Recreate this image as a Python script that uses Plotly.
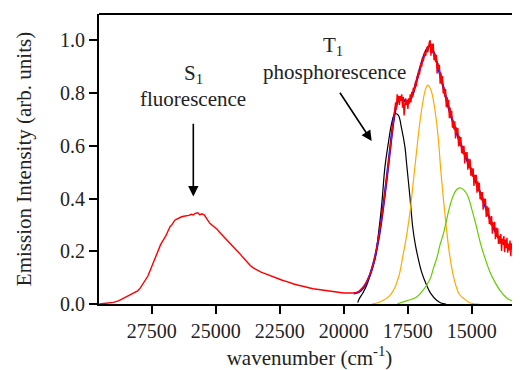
import plotly.graph_objects as go

# ---- data ----
red_x = [29550, 29300, 29000, 28800, 28600, 28450, 28300, 28150, 28050, 27950, 27850, 27750, 27650, 27550,
         27450, 27350, 27250, 27150, 27050, 26950, 26850, 26780, 26700, 26600, 26520, 26450, 26350, 26250,
         26150, 26050, 25950, 25880, 25800, 25700, 25620, 25550, 25450, 25380, 25300, 25220, 25150, 25050,
         24950, 24850, 24750, 24650, 24550, 24450, 24350, 24250, 24150, 24050, 23950, 23850, 23750, 23650,
         23550, 23450, 23350, 23250, 23150, 23050, 22950, 22850, 22700, 22550, 22400, 22250, 22100, 21950,
         21800, 21650, 21500, 21350, 21200, 21050, 20900, 20750, 20600, 20450, 20300, 20150, 20000, 19850,
         19700, 19600, 19500, 19400, 19300, 19200, 19100, 19000, 18900, 18800, 18700, 18600, 18500, 18400,
         18300, 18200, 18150, 18100, 18050, 18000, 17970, 17940, 17910, 17880, 17850, 17820, 17790, 17760,
         17730, 17700, 17670, 17640, 17610, 17580, 17550, 17520, 17490, 17460, 17430, 17400, 17370, 17340,
         17310, 17280, 17250, 17220, 17190, 17160, 17130, 17100, 17070, 17040, 17010, 16980, 16950, 16920,
         16890, 16860, 16830, 16800, 16770, 16740, 16710, 16680, 16650, 16620, 16590, 16560, 16530, 16500,
         16470, 16440, 16410, 16380, 16350, 16320, 16290, 16260, 16230, 16200, 16170, 16140, 16110, 16080,
         16050, 16020, 15990, 15960, 15930, 15900, 15870, 15840, 15810, 15780, 15750, 15720, 15690, 15660,
         15630, 15600, 15570, 15540, 15510, 15480, 15450, 15420, 15390, 15360, 15330, 15300, 15270, 15240,
         15210, 15180, 15150, 15120, 15090, 15060, 15030, 15000, 14970, 14940, 14910, 14880, 14850, 14820,
         14790, 14760, 14730, 14700, 14670, 14640, 14610, 14580, 14550, 14520, 14490, 14460, 14430, 14400,
         14370, 14340, 14310, 14280, 14250, 14220, 14190, 14160, 14130, 14100, 14070, 14040, 14010, 13980,
         13950, 13920, 13890, 13860, 13830, 13800, 13770, 13740, 13710, 13680, 13650, 13620, 13590, 13560,
         13530, 13500, 13470, 13440, 13410, 13380, 13350, 13320, 13290, 13260, 13230, 13200, 13170, 13140,
         13110]
red_y = [0.000, 0.002, 0.006, 0.012, 0.022, 0.030, 0.036, 0.044, 0.050, 0.060, 0.074, 0.090, 0.106, 0.130,
         0.156, 0.180, 0.208, 0.226, 0.242, 0.258, 0.280, 0.294, 0.302, 0.318, 0.322, 0.326, 0.330, 0.333,
         0.334, 0.336, 0.340, 0.338, 0.344, 0.346, 0.338, 0.342, 0.338, 0.326, 0.316, 0.305, 0.300, 0.292,
         0.284, 0.272, 0.262, 0.254, 0.244, 0.232, 0.224, 0.214, 0.200, 0.190, 0.178, 0.166, 0.156, 0.146,
         0.138, 0.132, 0.126, 0.122, 0.118, 0.114, 0.110, 0.106, 0.102, 0.096, 0.090, 0.086, 0.080, 0.076,
         0.072, 0.068, 0.064, 0.060, 0.058, 0.056, 0.054, 0.051, 0.050, 0.047, 0.045, 0.043, 0.042, 0.042,
         0.041, 0.040, 0.042, 0.048, 0.058, 0.068, 0.084, 0.104, 0.132, 0.168, 0.215, 0.268, 0.335, 0.410,
         0.490, 0.575, 0.615, 0.660, 0.700, 0.730, 0.765, 0.740, 0.795, 0.765, 0.790, 0.755, 0.790, 0.770,
         0.795, 0.745, 0.785, 0.715, 0.770, 0.780, 0.755, 0.775, 0.740, 0.780, 0.760, 0.795, 0.765, 0.805,
         0.785, 0.820, 0.805, 0.835, 0.845, 0.825, 0.865, 0.855, 0.885, 0.870, 0.905, 0.915, 0.900, 0.935,
         0.920, 0.950, 0.955, 0.940, 0.970, 0.975, 0.955, 0.990, 0.995, 1.000, 0.942, 0.987, 0.952, 0.988,
         0.925, 0.951, 0.918, 0.945, 0.874, 0.914, 0.888, 0.907, 0.836, 0.878, 0.837, 0.865, 0.799, 0.822,
         0.786, 0.815, 0.746, 0.785, 0.759, 0.775, 0.705, 0.745, 0.706, 0.733, 0.669, 0.695, 0.662, 0.693,
         0.628, 0.670, 0.646, 0.667, 0.598, 0.638, 0.600, 0.633, 0.572, 0.600, 0.568, 0.600, 0.533, 0.575,
         0.553, 0.576, 0.509, 0.552, 0.516, 0.549, 0.487, 0.515, 0.483, 0.515, 0.448, 0.490, 0.468, 0.490,
         0.422, 0.465, 0.428, 0.460, 0.397, 0.425, 0.393, 0.425, 0.358, 0.401, 0.378, 0.399, 0.330, 0.372,
         0.334, 0.366, 0.304, 0.332, 0.300, 0.334, 0.267, 0.310, 0.289, 0.312, 0.246, 0.290, 0.254, 0.287,
         0.228, 0.259, 0.229, 0.265, 0.201, 0.248, 0.230, 0.258, 0.196, 0.244, 0.212, 0.251, 0.195, 0.229,
         0.203, 0.241, 0.181, 0.230, 0.215, 0.244, 0.184, 0.234, 0.203, 0.243, 0.188, 0.222, 0.197, 0.237,
         0.177]

fit_x = [19600, 19400, 19200, 19000, 18800, 18600, 18400, 18200, 18100, 18000, 17900, 17800, 17700, 17600,
         17500, 17400, 17300, 17200, 17100, 17000, 16900, 16800, 16700, 16650, 16600, 16500, 16400, 16300,
         16200, 16100, 16000, 15900, 15800, 15700, 15600, 15500, 15400, 15300, 15200, 15100, 15000, 14900,
         14800, 14700, 14600, 14500, 14400, 14300, 14200, 14100, 14000, 13900, 13800, 13700, 13600, 13500,
         13400, 13300, 13200, 13100]
fit_y = [0.040, 0.046, 0.066, 0.104, 0.168, 0.268, 0.410, 0.575, 0.660, 0.725, 0.765, 0.780, 0.778, 0.770,
         0.768, 0.775, 0.795, 0.830, 0.865, 0.900, 0.932, 0.958, 0.975, 0.978, 0.975, 0.958, 0.930, 0.895,
         0.858, 0.820, 0.782, 0.745, 0.712, 0.682, 0.655, 0.625, 0.600, 0.575, 0.550, 0.528, 0.505, 0.480,
         0.455, 0.430, 0.405, 0.380, 0.352, 0.326, 0.302, 0.280, 0.260, 0.245, 0.233, 0.225, 0.220, 0.216,
         0.214, 0.213, 0.212, 0.212]

g1_x = [19450, 19400, 19250, 19100, 18950, 18777, 18648, 18516, 18387, 18258, 18128, 17996, 17866, 17735,
        17605, 17540, 17410, 17300, 17200, 17086, 16950, 16758, 16600, 16367, 16200, 16000]
g1_y = [0.005, 0.018, 0.042, 0.071, 0.115, 0.172, 0.260, 0.374, 0.520, 0.608, 0.684, 0.722, 0.716, 0.665,
        0.595, 0.532, 0.405, 0.290, 0.225, 0.172, 0.120, 0.071, 0.040, 0.014, 0.004, 0.000]

g2_x = [18900, 18700, 18450, 18200, 18000, 17900, 17800, 17700, 17600, 17500, 17400, 17300, 17200, 17100,
        17000, 16900, 16800, 16720, 16600, 16500, 16400, 16300, 16200, 16100, 16000, 15900, 15800, 15700,
        15600, 15500, 15400, 15300, 15100, 14900, 14700]
g2_y = [0.000, 0.004, 0.014, 0.032, 0.062, 0.088, 0.122, 0.175, 0.226, 0.285, 0.355, 0.445, 0.535, 0.625,
        0.705, 0.770, 0.815, 0.830, 0.815, 0.775, 0.712, 0.625, 0.500, 0.395, 0.300, 0.215, 0.150, 0.100,
        0.065, 0.040, 0.028, 0.020, 0.006, 0.001, 0.000]

g3_x = [17900, 17672, 17400, 17148, 16950, 16758, 16600, 16497, 16350, 16238, 16100, 16000, 15848, 15700,
        15550, 15430, 15300, 15150, 15000, 14870, 14750, 14650, 14547, 14400, 14285, 14100, 13894, 13650,
        13374, 13100]
g3_y = [0.001, 0.008, 0.016, 0.027, 0.046, 0.071, 0.100, 0.134, 0.178, 0.223, 0.268, 0.310, 0.372, 0.415,
        0.437, 0.440, 0.432, 0.410, 0.362, 0.315, 0.268, 0.228, 0.195, 0.152, 0.121, 0.085, 0.052, 0.025,
        0.010, 0.004]

x_ticks = [27500, 25000, 22500, 20000, 17500, 15000]
y_ticks = [0.0, 0.2, 0.4, 0.6, 0.8, 1.0]

FONT = "'Liberation Serif', serif"
TXT = "#222222"

fig = go.Figure()
fig.add_trace(go.Scatter(x=g1_x, y=g1_y, mode="lines", line=dict(color="black", width=1.2, shape="spline")))
fig.add_trace(go.Scatter(x=g2_x, y=g2_y, mode="lines", line=dict(color="#ffaa00", width=1.2, shape="spline")))
fig.add_trace(go.Scatter(x=g3_x, y=g3_y, mode="lines", line=dict(color="#66cc00", width=1.2, shape="spline")))
fig.add_trace(go.Scatter(x=fit_x, y=fit_y, mode="lines", line=dict(color="#0000ff", width=2.2, shape="spline")))
fig.add_trace(go.Scatter(x=red_x, y=red_y, mode="lines", line=dict(color="#ff0000", width=1.4)))

annos = [
    dict(x=25875, y=0.872, text="S<sub>1</sub>", showarrow=False),
    dict(x=25875, y=0.778, text="fluorescence", showarrow=False),
    dict(x=20430, y=0.978, text="T<sub>1</sub>", showarrow=False),
    dict(x=20340, y=0.880, text="phosphorescence", showarrow=False),
    dict(x=25875, y=0.408, ax=25875, ay=0.689, axref="x", ayref="y", text="", showarrow=True,
         arrowhead=2, arrowsize=1.3, arrowwidth=1.6, arrowcolor="black"),
    dict(x=18906, y=0.618, ax=20184, ay=0.807, axref="x", ayref="y", text="", showarrow=True,
         arrowhead=2, arrowsize=1.3, arrowwidth=1.6, arrowcolor="black"),
]
for a in annos:
    a.update(xref="x", yref="y", font=dict(family=FONT, size=21, color=TXT))
    fig.add_annotation(**a)

# top frame line
fig.add_shape(type="line", xref="paper", yref="paper", x0=0, x1=1, y0=1, y1=1,
              line=dict(color="black", width=2))

fig.update_layout(
    width=512, height=362,
    margin=dict(l=91, r=0, t=6, b=66),
    paper_bgcolor="white", plot_bgcolor="white",
    showlegend=False,
    font=dict(family=FONT, size=20, color=TXT),
)
fig.update_xaxes(
    range=[29560, 13110], autorange=False,
    tickmode="array", tickvals=x_ticks, ticktext=[str(v) for v in x_ticks],
    ticks="outside", ticklen=8, tickwidth=2, tickcolor="black",
    showline=True, linewidth=2, linecolor="black",
    showgrid=False, zeroline=False,
    tickfont=dict(family=FONT, size=20, color=TXT),
    title=dict(text="wavenumber (cm<sup>-1</sup>)", font=dict(family=FONT, size=21, color=TXT), standoff=11),
)
fig.update_yaxes(
    range=[0, 1.1], autorange=False,
    tickmode="array", tickvals=y_ticks, ticktext=["%.1f" % v for v in y_ticks],
    ticks="outside", ticklen=8, tickwidth=2, tickcolor="black",
    showline=True, linewidth=2, linecolor="black",
    showgrid=False, zeroline=False,
    tickfont=dict(family=FONT, size=20, color=TXT),
    title=dict(text="Emission Intensity (arb. units)", font=dict(family=FONT, size=21, color=TXT), standoff=23),
)

fig.write_html("out.html")
